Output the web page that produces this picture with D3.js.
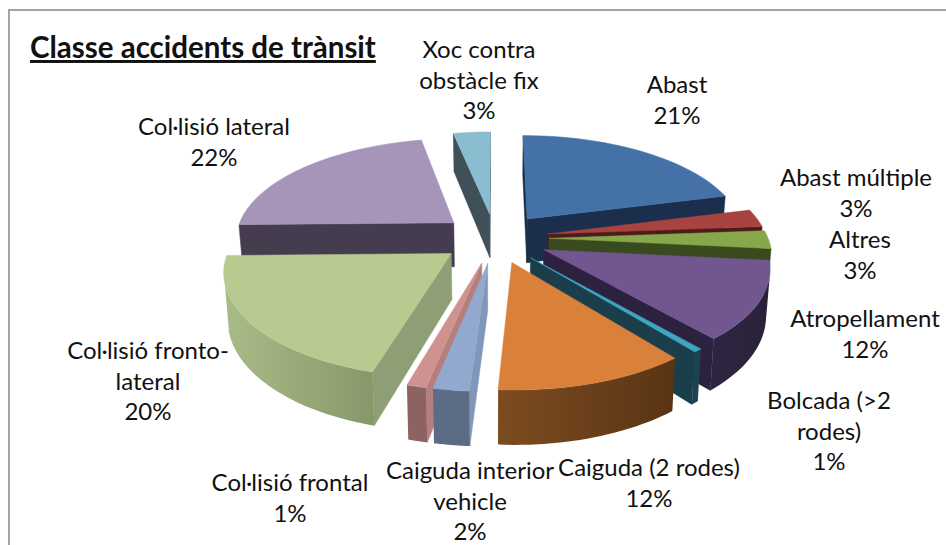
<!DOCTYPE html>
<html>
<head>
<meta charset="utf-8">
<script src="https://cdn.jsdelivr.net/npm/d3@7"></script>
<style>
  html, body { margin: 0; padding: 0; background: #fff; overflow: hidden; }
  text { font-family: Lato, "Open Sans", sans-serif; fill: #111; }
</style>
</head>
<body>
<div id="chart"></div>
<script>
// values (the rounded percentages printed on the chart come from these)
var categories = ["Abast", "Abast múltiple", "Altres", "Atropellament", "Bolcada (>2 rodes)", "Caiguda (2 rodes)",
    "Caiguda interior vehicle", "Col·lisió frontal", "Col·lisió fronto-lateral", "Col·lisió lateral", "Xoc contra obstàcle fix"];
var values = [21.0, 2.8, 2.8, 12.1, 0.55, 11.75, 2.2, 1.2, 20.3, 22.1, 3.2];
var labelLines = [["Abast"], ["Abast múltiple"], ["Altres"], ["Atropellament"], ["Bolcada (>2", "rodes)"], ["Caiguda (2 rodes)"],
    ["Caiguda interior", "vehicle"], ["Col·lisió frontal"], ["Col·lisió fronto-", "lateral"], ["Col·lisió lateral"], ["Xoc contra", "obstàcle fix"]];

var topColors  = ["#4472a8", "#a84340", "#86a74a", "#71568f", "#3ea6c0", "#d9803a", "#92a9cf", "#cf9290", "#b7cb91", "#a695b9", "#8abdd0"];
var rimLight   = ["#1c314e", "#4f1f1d", "#3c4a1e", "#2e2542", "#1b4450", "#7c4c20", "#5d6c85", "#8c6362", "#a9bb87", "#453d4f", "#3f5058"];
var rimDark    = ["#1c314e", "#4f1f1d", "#3c4a1e", "#2a2139", "#1b4450", "#593414", "#5d6c85", "#8c6362", "#87996b", "#453d4f", "#3f5058"];
var cutColors  = ["#1b2f4c", "#4a1c1a", "#3a4a1f", "#2c2240", "#1a3e4a", "#5a3514", "#8096bb", "#b57f7d", "#8f9f75", "#453d4f", "#3f5058"];

// label anchors, one per category
var labelX = [677, 856, 860, 865, 829, 649, 470, 290, 148, 214, 479];
var labelY = [85, 178, 240, 319, 401, 468, 471, 483, 351, 127, 50];

var width = 946, height = 545;
var cx = 495, cy = 238;
var R = 219, explode = 54, tilt = 0.46, persp = 0.00067, depth = 45;

var svg = d3.select("#chart").append("svg").attr("width", width).attr("height", height);
var defs = svg.append("defs");

svg.append("rect").attr("x", 9).attr("y", 10).attr("width", 1000).attr("height", 600)
    .attr("fill", "#fff").attr("stroke", "#a3a3a3").attr("stroke-width", 2);

// project a point of the pie plane to the screen, bottom = true for the underside
function project(X, Z, bottom) {
    var s = 1 / (1 + persp * Z);
    var px = cx + X * s, py = cy - tilt * Z * s;
    if (bottom) { px = cx + (px - cx) * 0.985; py += depth * s; }
    return [px, py];
}

var pie = d3.pie().sort(null).value(function(d) { return d; });
var line = d3.line();

var slices = pie(values).map(function(d, i) {
    var mid = (d.startAngle + d.endAngle) / 2;
    var ox = explode * Math.sin(mid), oz = explode * Math.cos(mid);
    var steps = d3.range(0, 25).map(function(k) { return d.startAngle + (d.endAngle - d.startAngle) * k / 24; });
    return {
        i: i, ox: ox, oz: oz, steps: steps,
        apex: function(b) { return project(ox, oz, b); },
        rim: function(a, b) { return project(ox + R * Math.sin(a), oz + R * Math.cos(a), b); }
    };
});

// back slices first
slices.sort(function(a, b) { return b.oz - a.oz; });

// only the faces that turn towards the viewer
function faces(a, b, bottomA, bottomB) {
    return d3.polygonArea([a, b, bottomB, bottomA]) < 0;
}

function quad(g, a, b, bottomA, bottomB, fill) {
    if (!faces(a, b, bottomA, bottomB)) return;
    g.append("path").attr("d", line([a, b, bottomB, bottomA]) + "Z").attr("fill", fill).attr("stroke", fill).attr("stroke-width", 0.5);
}

slices.forEach(function(s) {
    var g = svg.append("g").attr("class", "slice");
    var i = s.i;
    var first = s.steps[0], last = s.steps[s.steps.length - 1];

    // cut faces
    quad(g, s.rim(first), s.apex(), s.rim(first, true), s.apex(true), cutColors[i]);
    quad(g, s.apex(), s.rim(last), s.apex(true), s.rim(last, true), cutColors[i]);

    // outer wall as one shape, gradient along the rim
    var seen = s.steps.filter(function(a, k) {
        var b = s.steps[k + 1 < s.steps.length ? k + 1 : k - 1];
        var p = a < b ? [a, b] : [b, a];
        return faces(s.rim(p[1]), s.rim(p[0]), s.rim(p[1], true), s.rim(p[0], true));
    });
    if (seen.length > 1) {
        var xr = seen.map(function(a) { return s.rim(a)[0]; });
        var grad = defs.append("linearGradient").attr("id", "rim" + i).attr("gradientUnits", "userSpaceOnUse")
            .attr("x1", d3.min(xr)).attr("x2", d3.max(xr)).attr("y1", 0).attr("y2", 0);
        grad.append("stop").attr("offset", 0).attr("stop-color", rimLight[i]);
        grad.append("stop").attr("offset", 1).attr("stop-color", rimDark[i]);
        var wall = seen.map(function(a) { return s.rim(a); })
            .concat(seen.slice().reverse().map(function(a) { return s.rim(a, true); }));
        g.append("path").attr("d", line(wall) + "Z").attr("fill", "url(#rim" + i + ")");
    }

    // top
    var pts = [s.apex()].concat(s.steps.map(function(a) { return s.rim(a); }));
    g.append("path").attr("d", line(pts) + "Z").attr("fill", topColors[i]).attr("stroke", topColors[i]).attr("stroke-width", 0.5);
});

// data labels
var pct = d3.format(".0f");
labelLines.forEach(function(lines, i) {
    var t = svg.append("text").attr("text-anchor", "middle").attr("font-size", 24);
    lines.concat([pct(values[i]) + "%"]).forEach(function(l, k) {
        t.append("tspan").attr("x", labelX[i]).attr("y", labelY[i] + 8 + k * 30.5).text(l);
    });
});

svg.append("text").attr("x", 30).attr("y", 58).attr("font-size", 29.5).attr("font-weight", 700)
    .attr("text-decoration", "underline").text("Classe accidents de trànsit");
</script>
</body>
</html>
